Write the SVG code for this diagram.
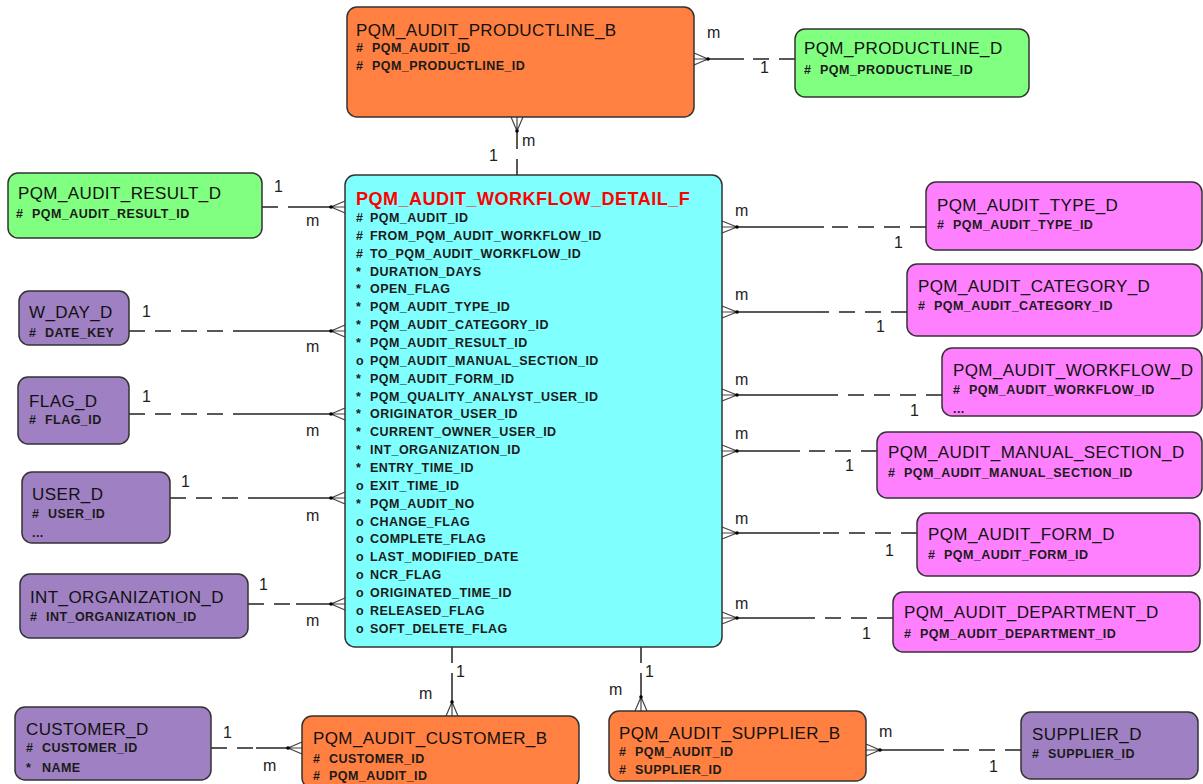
<svg xmlns="http://www.w3.org/2000/svg" width="1203" height="784" viewBox="0 0 1203 784">
<style>
.bx{stroke:#333;stroke-width:1.5}
.or{fill:#FF8040}.gr{fill:#80FF80}.cy{fill:#80FFFF}.mg{fill:#FF80FF}.pu{fill:#9F80C2}
.t{font-family:"Liberation Sans",Arial,sans-serif;font-size:17px;letter-spacing:0.4px;fill:#111}
.a{font-family:"Liberation Sans",Arial,sans-serif;font-size:12.5px;font-weight:bold;letter-spacing:0.45px;fill:#1a1a1a}
.ft{font-family:"Liberation Sans",Arial,sans-serif;font-size:18px;font-weight:bold;letter-spacing:0.5px;fill:#FF0000}
.l{font-family:"Liberation Sans",Arial,sans-serif;font-size:16px;fill:#222}
.s{stroke:#222;stroke-width:1.5;fill:none}
.d{stroke:#222;stroke-width:1.5;fill:none;stroke-dasharray:16 10}
.cf{stroke:#444;stroke-width:1.2;fill:none}
.dot{fill:#000}
</style>

<g id="connectors">
  <!-- PRODUCTLINE_B - PRODUCTLINE_D -->
  <path class="s" d="M708 59H744"/><path class="d" d="M795 59H744"/>
  <path class="cf" d="M694 53L708 59L694 65M694 59H708"/><circle class="dot" cx="708" cy="59" r="1.8"/>
  <text class="l" x="707" y="38">m</text><text class="l" x="760" y="73">1</text>
  <!-- PRODUCTLINE_B - central -->
  <path class="s" d="M517 131V146"/><path class="d" d="M517 175V146"/>
  <path class="cf" d="M511 117L517 131L523 117M517 117V131"/><circle class="dot" cx="517" cy="131" r="1.8"/>
  <text class="l" x="522" y="146">m</text><text class="l" x="489" y="161">1</text>
  <!-- left side -->
  <path class="s" d="M331 207H303"/><path class="d" d="M262 207H303"/>
  <path class="cf" d="M345 201L331 207L345 213M345 207H331"/><circle class="dot" cx="331" cy="207" r="1.8"/>
  <text class="l" x="274" y="192">1</text><text class="l" x="306" y="226">m</text>

  <path class="s" d="M331 331H237"/><path class="d" d="M129 331H237"/>
  <path class="cf" d="M345 325L331 331L345 337M345 331H331"/><circle class="dot" cx="331" cy="331" r="1.8"/>
  <text class="l" x="142" y="317">1</text><text class="l" x="306" y="352">m</text>

  <path class="s" d="M331 414H237"/><path class="d" d="M129 414H237"/>
  <path class="cf" d="M345 408L331 414L345 420M345 414H331"/><circle class="dot" cx="331" cy="414" r="1.8"/>
  <text class="l" x="142" y="402">1</text><text class="l" x="306" y="436">m</text>

  <path class="s" d="M331 498H258"/><path class="d" d="M170 498H258"/>
  <path class="cf" d="M345 492L331 498L345 504M345 498H331"/><circle class="dot" cx="331" cy="498" r="1.8"/>
  <text class="l" x="181" y="487">1</text><text class="l" x="306" y="521">m</text>

  <path class="s" d="M331 604H296"/><path class="d" d="M248 604H296"/>
  <path class="cf" d="M345 598L331 604L345 610M345 604H331"/><circle class="dot" cx="331" cy="604" r="1.8"/>
  <text class="l" x="259" y="590">1</text><text class="l" x="306" y="626">m</text>

  <path class="s" d="M288 748H256"/><path class="d" d="M211 748H256"/>
  <path class="cf" d="M302 742L288 748L302 754M302 748H288"/><circle class="dot" cx="288" cy="748" r="1.8"/>
  <text class="l" x="223" y="738">1</text><text class="l" x="263" y="771">m</text>
  <!-- right side -->
  <path class="s" d="M737 227H824"/><path class="d" d="M926 227H824"/>
  <path class="cf" d="M722 221L737 227L722 233M722 227H737"/><circle class="dot" cx="737" cy="227" r="1.8"/>
  <text class="l" x="735" y="216">m</text><text class="l" x="894" y="248">1</text>

  <path class="s" d="M737 312H814"/><path class="d" d="M907 312H814"/>
  <path class="cf" d="M722 306L737 312L722 318M722 312H737"/><circle class="dot" cx="737" cy="312" r="1.8"/>
  <text class="l" x="735" y="300">m</text><text class="l" x="876" y="332">1</text>

  <path class="s" d="M737 395H832"/><path class="d" d="M942 395H832"/>
  <path class="cf" d="M722 389L737 395L722 401M722 395H737"/><circle class="dot" cx="737" cy="395" r="1.8"/>
  <text class="l" x="735" y="385">m</text><text class="l" x="910" y="416">1</text>

  <path class="s" d="M737 451H800"/><path class="d" d="M877 451H800"/>
  <path class="cf" d="M722 445L737 451L722 457M722 451H737"/><circle class="dot" cx="737" cy="451" r="1.8"/>
  <text class="l" x="735" y="439">m</text><text class="l" x="845" y="471">1</text>

  <path class="s" d="M737 533H820"/><path class="d" d="M917 533H820"/>
  <path class="cf" d="M722 527L737 533L722 539M722 533H737"/><circle class="dot" cx="737" cy="533" r="1.8"/>
  <text class="l" x="735" y="524">m</text><text class="l" x="885" y="556">1</text>

  <path class="s" d="M737 618H808"/><path class="d" d="M893 618H808"/>
  <path class="cf" d="M722 612L737 618L722 624M722 618H737"/><circle class="dot" cx="737" cy="618" r="1.8"/>
  <text class="l" x="735" y="609">m</text><text class="l" x="862" y="639">1</text>
  <!-- bottom -->
  <path class="s" d="M452 702V681"/><path class="d" d="M452 647V681"/>
  <path class="cf" d="M446 716L452 702L458 716M452 716V702"/><circle class="dot" cx="452" cy="702" r="1.8"/>
  <text class="l" x="456" y="677">1</text><text class="l" x="419" y="699">m</text>

  <path class="s" d="M641 697V679"/><path class="d" d="M641 647V679"/>
  <path class="cf" d="M635 711L641 697L647 711M641 711V697"/><circle class="dot" cx="641" cy="697" r="1.8"/>
  <text class="l" x="645" y="677">1</text><text class="l" x="609" y="695">m</text>

  <path class="s" d="M880 750H944"/><path class="d" d="M1021 750H944"/>
  <path class="cf" d="M866 744L880 750L866 756M866 750H880"/><circle class="dot" cx="880" cy="750" r="1.8"/>
  <text class="l" x="879" y="737">m</text><text class="l" x="989" y="772">1</text>
</g>

<g id="PQM_AUDIT_PRODUCTLINE_B">
  <rect class="bx or" x="347" y="7" width="347" height="110" rx="10"/>
  <text class="t" x="356" y="36">PQM_AUDIT_PRODUCTLINE_B</text>
  <text class="a" x="356" y="52">#</text><text class="a" x="372" y="52">PQM_AUDIT_ID</text>
  <text class="a" x="356" y="70">#</text><text class="a" x="372" y="70">PQM_PRODUCTLINE_ID</text>
</g>
<g id="PQM_PRODUCTLINE_D">
  <rect class="bx gr" x="795" y="29" width="234" height="68" rx="10"/>
  <text class="t" x="804" y="54">PQM_PRODUCTLINE_D</text>
  <text class="a" x="804" y="74">#</text><text class="a" x="820" y="74">PQM_PRODUCTLINE_ID</text>
</g>
<g id="PQM_AUDIT_RESULT_D">
  <rect class="bx gr" x="8" y="173" width="254" height="65" rx="10"/>
  <text class="t" x="18" y="199">PQM_AUDIT_RESULT_D</text>
  <text class="a" x="16" y="218">#</text><text class="a" x="32" y="218">PQM_AUDIT_RESULT_ID</text>
</g>
<g id="W_DAY_D">
  <rect class="bx pu" x="19" y="291" width="110" height="54" rx="10"/>
  <text class="t" x="29" y="318">W_DAY_D</text>
  <text class="a" x="29" y="337">#</text><text class="a" x="45" y="337">DATE_KEY</text>
</g>
<g id="FLAG_D">
  <rect class="bx pu" x="18" y="377" width="111" height="67" rx="10"/>
  <text class="t" x="29" y="407">FLAG_D</text>
  <text class="a" x="29" y="424">#</text><text class="a" x="45" y="424">FLAG_ID</text>
</g>
<g id="USER_D">
  <rect class="bx pu" x="22" y="472" width="148" height="71" rx="10"/>
  <text class="t" x="32" y="500">USER_D</text>
  <text class="a" x="32" y="518">#</text><text class="a" x="48" y="518">USER_ID</text>
  <text class="a" x="32" y="537">...</text>
</g>
<g id="INT_ORGANIZATION_D">
  <rect class="bx pu" x="20" y="574" width="228" height="64" rx="10"/>
  <text class="t" x="30" y="603">INT_ORGANIZATION_D</text>
  <text class="a" x="30" y="621">#</text><text class="a" x="46" y="621">INT_ORGANIZATION_ID</text>
</g>
<g id="CUSTOMER_D">
  <rect class="bx pu" x="15" y="707" width="196" height="73" rx="10"/>
  <text class="t" x="26" y="735">CUSTOMER_D</text>
  <text class="a" x="26" y="752">#</text><text class="a" x="42" y="752">CUSTOMER_ID</text>
  <text class="a" x="26" y="772">*</text><text class="a" x="42" y="772">NAME</text>
</g>
<g id="PQM_AUDIT_CUSTOMER_B">
  <rect class="bx or" x="302" y="716" width="277" height="72" rx="10"/>
  <text class="t" x="313" y="744">PQM_AUDIT_CUSTOMER_B</text>
  <text class="a" x="313" y="763">#</text><text class="a" x="329" y="763">CUSTOMER_ID</text>
  <text class="a" x="313" y="780">#</text><text class="a" x="329" y="780">PQM_AUDIT_ID</text>
</g>
<g id="PQM_AUDIT_SUPPLIER_B">
  <rect class="bx or" x="609" y="711" width="257" height="70" rx="10"/>
  <text class="t" x="619" y="739">PQM_AUDIT_SUPPLIER_B</text>
  <text class="a" x="619" y="756">#</text><text class="a" x="635" y="756">PQM_AUDIT_ID</text>
  <text class="a" x="619" y="774">#</text><text class="a" x="635" y="774">SUPPLIER_ID</text>
</g>
<g id="SUPPLIER_D">
  <rect class="bx pu" x="1021" y="712" width="177" height="67" rx="10"/>
  <text class="t" x="1032" y="740">SUPPLIER_D</text>
  <text class="a" x="1032" y="758">#</text><text class="a" x="1048" y="758">SUPPLIER_ID</text>
</g>
<g id="PQM_AUDIT_TYPE_D">
  <rect class="bx mg" x="926" y="182" width="276" height="68" rx="10"/>
  <text class="t" x="937" y="211">PQM_AUDIT_TYPE_D</text>
  <text class="a" x="937" y="229">#</text><text class="a" x="953" y="229">PQM_AUDIT_TYPE_ID</text>
</g>
<g id="PQM_AUDIT_CATEGORY_D">
  <rect class="bx mg" x="907" y="264" width="295" height="72" rx="10"/>
  <text class="t" x="918" y="292">PQM_AUDIT_CATEGORY_D</text>
  <text class="a" x="918" y="310">#</text><text class="a" x="934" y="310">PQM_AUDIT_CATEGORY_ID</text>
</g>
<g id="PQM_AUDIT_WORKFLOW_D">
  <rect class="bx mg" x="942" y="348" width="260" height="68" rx="10"/>
  <text class="t" x="953" y="376">PQM_AUDIT_WORKFLOW_D</text>
  <text class="a" x="953" y="394">#</text><text class="a" x="969" y="394">PQM_AUDIT_WORKFLOW_ID</text>
  <text class="a" x="953" y="413">...</text>
</g>
<g id="PQM_AUDIT_MANUAL_SECTION_D">
  <rect class="bx mg" x="877" y="432" width="325" height="66" rx="10"/>
  <text class="t" x="888" y="458">PQM_AUDIT_MANUAL_SECTION_D</text>
  <text class="a" x="888" y="477">#</text><text class="a" x="904" y="477">PQM_AUDIT_MANUAL_SECTION_ID</text>
</g>
<g id="PQM_AUDIT_FORM_D">
  <rect class="bx mg" x="917" y="513" width="283" height="63" rx="10"/>
  <text class="t" x="928" y="540">PQM_AUDIT_FORM_D</text>
  <text class="a" x="928" y="559">#</text><text class="a" x="944" y="559">PQM_AUDIT_FORM_ID</text>
</g>
<g id="PQM_AUDIT_DEPARTMENT_D">
  <rect class="bx mg" x="893" y="592" width="307" height="60" rx="10"/>
  <text class="t" x="904" y="618">PQM_AUDIT_DEPARTMENT_D</text>
  <text class="a" x="904" y="638">#</text><text class="a" x="920" y="638">PQM_AUDIT_DEPARTMENT_ID</text>
</g>

<g id="PQM_AUDIT_WORKFLOW_DETAIL_F">
  <rect class="bx cy" x="345" y="175" width="377" height="472" rx="10"/>
  <text class="ft" x="356" y="205">PQM_AUDIT_WORKFLOW_DETAIL_F</text>
  <g class="a">
    <text x="356" y="222">#</text><text x="370" y="222">PQM_AUDIT_ID</text>
    <text x="356" y="240">#</text><text x="370" y="240">FROM_PQM_AUDIT_WORKFLOW_ID</text>
    <text x="356" y="258">#</text><text x="370" y="258">TO_PQM_AUDIT_WORKFLOW_ID</text>
    <text x="356" y="276">*</text><text x="370" y="276">DURATION_DAYS</text>
    <text x="356" y="293">*</text><text x="370" y="293">OPEN_FLAG</text>
    <text x="356" y="311">*</text><text x="370" y="311">PQM_AUDIT_TYPE_ID</text>
    <text x="356" y="329">*</text><text x="370" y="329">PQM_AUDIT_CATEGORY_ID</text>
    <text x="356" y="347">*</text><text x="370" y="347">PQM_AUDIT_RESULT_ID</text>
    <text x="356" y="365">o</text><text x="370" y="365">PQM_AUDIT_MANUAL_SECTION_ID</text>
    <text x="356" y="383">*</text><text x="370" y="383">PQM_AUDIT_FORM_ID</text>
    <text x="356" y="401">*</text><text x="370" y="401">PQM_QUALITY_ANALYST_USER_ID</text>
    <text x="356" y="418">*</text><text x="370" y="418">ORIGINATOR_USER_ID</text>
    <text x="356" y="436">*</text><text x="370" y="436">CURRENT_OWNER_USER_ID</text>
    <text x="356" y="454">*</text><text x="370" y="454">INT_ORGANIZATION_ID</text>
    <text x="356" y="472">*</text><text x="370" y="472">ENTRY_TIME_ID</text>
    <text x="356" y="490">o</text><text x="370" y="490">EXIT_TIME_ID</text>
    <text x="356" y="508">*</text><text x="370" y="508">PQM_AUDIT_NO</text>
    <text x="356" y="526">o</text><text x="370" y="526">CHANGE_FLAG</text>
    <text x="356" y="543">o</text><text x="370" y="543">COMPLETE_FLAG</text>
    <text x="356" y="561">o</text><text x="370" y="561">LAST_MODIFIED_DATE</text>
    <text x="356" y="579">o</text><text x="370" y="579">NCR_FLAG</text>
    <text x="356" y="597">o</text><text x="370" y="597">ORIGINATED_TIME_ID</text>
    <text x="356" y="615">o</text><text x="370" y="615">RELEASED_FLAG</text>
    <text x="356" y="633">o</text><text x="370" y="633">SOFT_DELETE_FLAG</text>
  </g>
</g>
</svg>
